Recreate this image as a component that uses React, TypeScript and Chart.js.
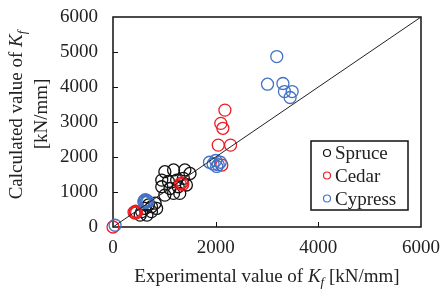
import React, { useEffect, useRef } from "react";
import { Chart, registerables } from "chart.js";
Chart.register(...registerables);

// ---- data ----
const spruceX = [1010, 1180, 1400, 1500, 950, 1080, 1240, 1370, 950, 1110, 1270, 1430, 1010, 1180, 1300, 690, 750, 820, 620, 750, 850, 560, 660, 530];
const spruceY = [1580, 1630, 1630, 1530, 1340, 1300, 1340, 1390, 1150, 1100, 1150, 1200, 910, 960, 960, 630, 580, 680, 530, 440, 530, 440, 340, 340];
const cedarX = [0, 410, 440, 460, 430, 1310, 1340, 1360, 2180, 2100, 2140, 2050, 2290, 2120];
const cedarY = [0, 420, 450, 410, 400, 1230, 1260, 1220, 3340, 2960, 2820, 2340, 2340, 1770];
const cypressX = [40, 600, 630, 660, 640, 680, 610, 1880, 1950, 2000, 2050, 2090, 2020, 3190, 3010, 3310, 3340, 3490, 3450];
const cypressY = [50, 720, 780, 760, 700, 730, 750, 1850, 1800, 1900, 1780, 1850, 1730, 4870, 4080, 4100, 3870, 3870, 3700];
const seriesNames = ["Spruce", "Cedar", "Cypress"];
const seriesColors = ["#111111", "#ee1c24", "#4472c4"];
const lineX = [0, 6000];
const lineY = [0, 6000];
const xTicks = [0, 2000, 4000, 6000];
const yTicks = [0, 1000, 2000, 3000, 4000, 5000, 6000];

const FONT = '"Liberation Serif", "Times New Roman", serif';

const toPts = (xs: number[], ys: number[]) => xs.map((x, i) => ({ x, y: ys[i] }));

type Part = { t: string; it?: boolean; sub?: boolean };
function drawRich(ctx: CanvasRenderingContext2D, parts: Part[], cx: number, cy: number) {
  const fontOf = (p: Part) =>
    p.sub ? `italic 13px ${FONT}` : p.it ? `italic 19px ${FONT}` : `19px ${FONT}`;
  let total = 0;
  const widths = parts.map((p) => {
    ctx.font = fontOf(p);
    const w = ctx.measureText(p.t).width;
    total += w;
    return w;
  });
  let x = cx - total / 2;
  ctx.textAlign = "left";
  ctx.textBaseline = "alphabetic";
  parts.forEach((p, i) => {
    ctx.font = fontOf(p);
    ctx.fillText(p.t, x, cy + (p.sub ? 4 : 0));
    x += widths[i];
  });
}

const decorPlugin = {
  id: "decor",
  beforeDatasetsDraw(chart: any) {
    const { ctx, chartArea: a, scales } = chart;
    ctx.save();
    ctx.strokeStyle = "#111";
    ctx.lineWidth = 1.5;
    ctx.strokeRect(a.left, a.top, a.right - a.left, a.bottom - a.top);
    ctx.lineWidth = 1;
    xTicks.slice(1, -1).forEach((v) => {
      const px = Math.round(scales.x.getPixelForValue(v)) + 0.5;
      ctx.beginPath();
      ctx.moveTo(px, a.bottom);
      ctx.lineTo(px, a.bottom - 5);
      ctx.stroke();
    });
    yTicks.slice(1, -1).forEach((v) => {
      const py = Math.round(scales.y.getPixelForValue(v)) + 0.5;
      ctx.beginPath();
      ctx.moveTo(a.left, py);
      ctx.lineTo(a.left + 5, py);
      ctx.stroke();
    });
    ctx.restore();
  },
  afterDraw(chart: any) {
    const { ctx, chartArea: a } = chart;
    ctx.save();
    ctx.fillStyle = "#222";
    // x title
    drawRich(
      ctx,
      [{ t: "Experimental value of " }, { t: "K", it: true }, { t: "f", it: true, sub: true }, { t: " [kN/mm]" }],
      (a.left + a.right) / 2,
      282
    );
    // y title
    ctx.save();
    ctx.translate(22, 115);
    ctx.rotate(-Math.PI / 2);
    drawRich(ctx, [{ t: "Calculated value of " }, { t: "K", it: true }, { t: "f", it: true, sub: true }], 0, 0);
    ctx.restore();
    ctx.save();
    ctx.translate(47, 114);
    ctx.rotate(-Math.PI / 2);
    drawRich(ctx, [{ t: "[kN/mm]" }], 0, 0);
    ctx.restore();
    // legend
    ctx.fillStyle = "#fff";
    ctx.fillRect(311, 141, 97, 69);
    ctx.strokeStyle = "#111";
    ctx.lineWidth = 1.5;
    ctx.strokeRect(311, 141, 97, 69);
    const rows = [153, 175.5, 198.5];
    seriesNames.forEach((n, i) => {
      ctx.beginPath();
      ctx.strokeStyle = seriesColors[i];
      ctx.lineWidth = 1.2;
      ctx.arc(327, rows[i], 3.5, 0, Math.PI * 2);
      ctx.stroke();
      ctx.fillStyle = "#222";
      ctx.font = `19px ${FONT}`;
      ctx.textAlign = "left";
      ctx.textBaseline = "alphabetic";
      ctx.fillText(n, 335, rows[i] + 6);
    });
    ctx.restore();
  },
};

export default function App() {
  const ref = useRef<HTMLCanvasElement>(null);
  useEffect(() => {
    if (!ref.current) return;
    const mk = (xs: number[], ys: number[], i: number, order: number) => ({
      label: seriesNames[i],
      data: toPts(xs, ys),
      borderColor: seriesColors[i],
      backgroundColor: "rgba(0,0,0,0)",
      pointRadius: 6,
      pointBorderWidth: 1.3,
      showLine: false,
      clip: false as any,
      order,
    });
    const chart = new Chart(ref.current, {
      type: "scatter",
      data: {
        datasets: [
          {
            label: "line",
            data: toPts(lineX, lineY),
            showLine: true,
            borderColor: "#222",
            borderWidth: 1,
            pointRadius: 0,
            order: 0,
          } as any,
          mk(spruceX, spruceY, 0, 3),
          mk(cedarX, cedarY, 1, 2),
          mk(cypressX, cypressY, 2, 1),
        ],
      },
      options: {
        animation: false,
        responsive: false,
        layout: { padding: { left: 0, right: 21, top: 17, bottom: 0 } },
        plugins: { legend: { display: false }, tooltip: { enabled: false } },
        scales: {
          x: {
            type: "linear",
            min: 0,
            max: 6000,
            afterFit: (s: any) => {
              s.height = 65;
              s.paddingLeft = 0;
              s.paddingRight = 0;
            },
            afterBuildTicks: (s: any) => {
              s.ticks = xTicks.map((v) => ({ value: v }));
            },
            grid: { display: false, drawTicks: false },
            border: { display: false },
            ticks: {
              color: "#222",
              padding: 10,
              maxRotation: 0,
              font: { family: FONT, size: 19 },
              callback: (v: any) => String(v),
            },
          },
          y: {
            type: "linear",
            min: 0,
            max: 6000,
            afterFit: (s: any) => {
              s.width = 113;
              s.paddingTop = 0;
              s.paddingBottom = 0;
            },
            afterBuildTicks: (s: any) => {
              s.ticks = yTicks.map((v) => ({ value: v }));
            },
            grid: { display: false, drawTicks: false },
            border: { display: false },
            ticks: {
              color: "#222",
              padding: 15,
              font: { family: FONT, size: 19 },
              callback: (v: any) => String(v),
            },
          },
        },
      },
      plugins: [decorPlugin],
    });
    return () => chart.destroy();
  }, []);
  return (
    <div style={{ position: "absolute", left: 0, top: 0, width: 442, height: 292, background: "#fff" }}>
      <canvas ref={ref} width={442} height={292} style={{ width: 442, height: 292 }} />
    </div>
  );
}
